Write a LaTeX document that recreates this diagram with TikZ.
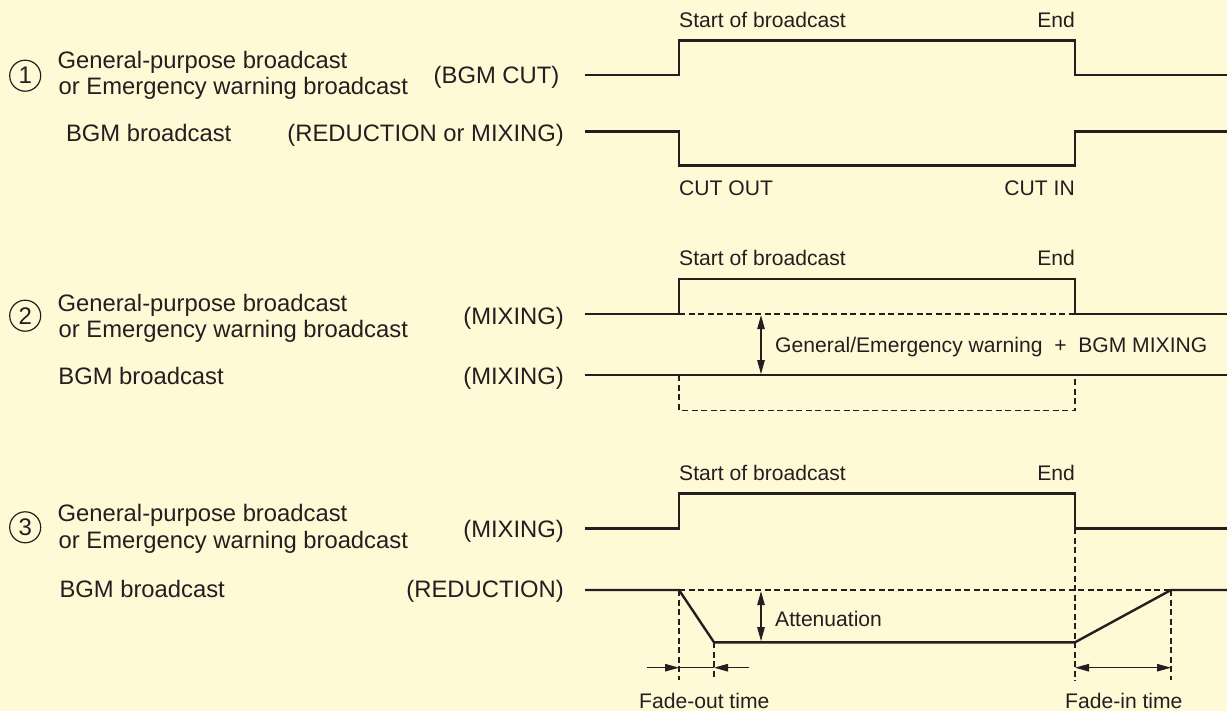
\documentclass[tikz,border=0pt]{standalone}
\usepackage{fontspec}
\setmainfont{Liberation Sans}
\usetikzlibrary{arrows.meta}
\definecolor{bg}{RGB}{255,249,214}
\definecolor{ink}{RGB}{35,31,32}
\begin{document}
\begin{tikzpicture}[x=1pt,y=-1pt,
  sig/.style={draw=ink, line width=2.4pt, line join=miter},
  guide/.style={draw=ink, line width=1.1pt, dash pattern=on 6pt off 3.5pt},
  dim/.style={draw=ink, line width=1.1pt},
  tipend/.style={-{Triangle[length=14pt,width=7.5pt]}},
  tipboth/.style={{Triangle[length=14pt,width=7.5pt]}-{Triangle[length=14pt,width=7.5pt]}},
  lbl/.style={inner sep=0pt, text=ink, font=\fontsize{23.8}{26}\selectfont},
  sml/.style={inner sep=0pt, text=ink, font=\fontsize{21.1}{24}\selectfont},
  num/.style={circle, draw=ink, line width=1.2pt, minimum size=31pt, inner sep=0pt, text=ink, font=\fontsize{24}{26}\selectfont}]

\fill[bg] (0,0) rectangle (1227,711);
\useasboundingbox (0,0) rectangle (1227,711);

% ---------------- Section 1 ----------------
\node[num] (n1) at (25.2,75.7) {1};
\node[lbl, anchor=base west] (g1a) at (57.4,68.3) {General-purpose broadcast};
\node[lbl, anchor=base west] (g1b) at (58.5,95) {or Emergency warning broadcast};
\node[lbl, anchor=base east] (m1a) at (559.5,83.5) {(BGM CUT)};
\node[lbl, anchor=base west] (b1) at (65.8,141.7) {BGM broadcast};
\node[lbl, anchor=base east] (m1b) at (564,141.7) {(REDUCTION or MIXING)};

\draw[sig] (585,75.3) -- (679,75.3) -- (679,40.7) -- (1075,40.7) -- (1075,75.3) -- (1227,75.3);
\draw[sig] (585,131.7) -- (679,131.7) -- (679,165.7) -- (1075,165.7) -- (1075,131.7) -- (1227,131.7);

\node[sml, anchor=base west] (s1) at (679,27.7) {Start of broadcast};
\node[sml, anchor=base east] (e1) at (1075,27.7) {End};
\node[sml, anchor=base west] (co) at (679,196) {CUT OUT};
\node[sml, anchor=base east] (ci) at (1075,196) {CUT IN};

% ---------------- Section 2 ----------------
\node[num] (n2) at (25.2,315.7) {2};
\node[lbl, anchor=base west] (g2a) at (57.4,311.7) {General-purpose broadcast};
\node[lbl, anchor=base west] (g2b) at (58.5,337.3) {or Emergency warning broadcast};
\node[lbl, anchor=base east] (m2a) at (564,325) {(MIXING)};
\node[lbl, anchor=base west] (b2) at (58.2,384.5) {BGM broadcast};
\node[lbl, anchor=base east] (m2b) at (564,384.5) {(MIXING)};

\draw[guide] (679,314) -- (1075,314);
\draw[guide] (679,375.3) -- (679,410.3) -- (1075,410.3) -- (1075,375.3);

\draw[sig] (585,314) -- (679,314) -- (679,279.3) -- (1075,279.3) -- (1075,314) -- (1227,314);
\draw[sig] (585,375.3) -- (1227,375.3);

\coordinate (a2t) at (761,315.2);
\coordinate (a2b) at (761,374.1);
\draw[dim, tipboth] (a2t) -- (a2b);

\node[sml, anchor=base west] (s2) at (679,266) {Start of broadcast};
\node[sml, anchor=base east] (e2) at (1075,266) {End};
\node[sml, anchor=base west] (mix) at (775,352.7) {General/Emergency warning~~+~~BGM MIXING};

% ---------------- Section 3 ----------------
\node[num] (n3) at (25.2,527.3) {3};
\node[lbl, anchor=base west] (g3a) at (57.4,521.7) {General-purpose broadcast};
\node[lbl, anchor=base west] (g3b) at (58.5,548.3) {or Emergency warning broadcast};
\node[lbl, anchor=base east] (m3a) at (564,537.5) {(MIXING)};
\node[lbl, anchor=base west] (b3) at (59.3,597.8) {BGM broadcast};
\node[lbl, anchor=base east] (m3b) at (564,597.5) {(REDUCTION)};

\draw[guide] (679,590) -- (1171,590);
\draw[guide] (679,590) -- (679,680);
\draw[guide] (714,642.3) -- (714,680);
\draw[guide] (1075,528.3) -- (1075,681);
\draw[guide] (1171,590) -- (1171,680);

\draw[sig] (585,528.3) -- (679,528.3) -- (679,493.3) -- (1075,493.3) -- (1075,528.3) -- (1227,528.3);
\draw[sig] (585,590) -- (679,590) -- (714,642.3) -- (1075,642.3) -- (1171,590) -- (1227,590);

\coordinate (a3t) at (761,591.2);
\coordinate (a3b) at (761,641.1);
\draw[dim, tipboth] (a3t) -- (a3b);

\coordinate (fo1) at (647,667.7);
\coordinate (fo2) at (679,667.7);
\coordinate (fo3) at (714,667.7);
\coordinate (fo4) at (749,667.7);
\draw[dim] (fo2) -- (fo3);
\draw[dim, tipend] (fo1) -- (fo2);
\draw[dim, tipend] (fo4) -- (fo3);

\coordinate (fi1) at (1075,667.7);
\coordinate (fi2) at (1171,667.7);
\draw[dim, tipboth] (fi1) -- (fi2);

\node[sml, anchor=base west] (s3) at (679,480.7) {Start of broadcast};
\node[sml, anchor=base east] (e3) at (1075,480.7) {End};
\node[sml, anchor=base west] (att) at (775,626) {Attenuation};
\node[sml, anchor=base west] (fot) at (639,708.3) {Fade-out time};
\node[sml, anchor=base west] (fit) at (1065,708.3) {Fade-in time};
\end{tikzpicture}
\end{document}
